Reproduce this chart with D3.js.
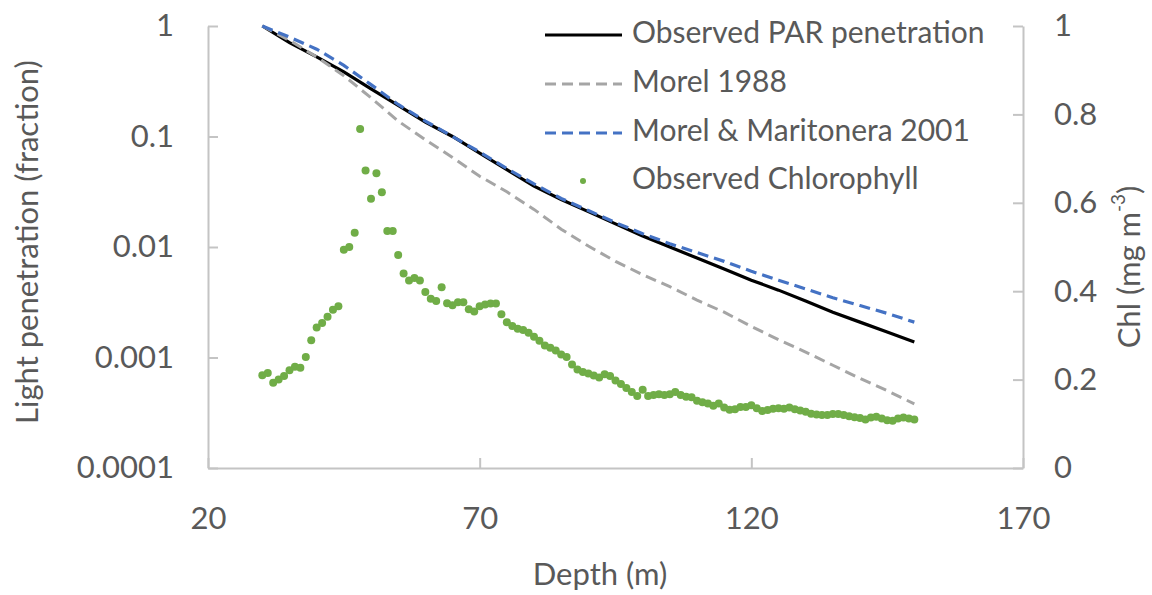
<!DOCTYPE html>
<html>
<head>
<meta charset="utf-8">
<script src="https://cdn.jsdelivr.net/npm/d3@7"></script>
<style>
  body { margin: 0; background: #ffffff; }
  svg text { font-family: Lato, "Open Sans", sans-serif; fill: #595959; }
</style>
</head>
<body>
<div id="chart"></div>
<script>
/* ********* ********* ********* ********* ********* ********* *********
 * Data
 * ********* ********* ********* ********* ********* ********* ********* */
var depth = [30, 35, 40, 45, 50, 55, 60, 65, 70, 75, 80, 85, 90, 95,
             100, 105, 110, 115, 120, 125, 130, 135, 140, 145, 150];

var observedPAR = [1, 0.708, 0.525, 0.385, 0.270, 0.191, 0.135, 0.100, 0.0708, 0.0501,
                   0.0355, 0.0269, 0.0209, 0.0162, 0.0126, 0.0100, 0.00794, 0.00631,
                   0.00501, 0.00407, 0.00324, 0.00257, 0.00209, 0.00170, 0.00138];

var morel1988 = [1, 0.741, 0.525, 0.355, 0.224, 0.138, 0.0933, 0.0646, 0.0437, 0.0316,
                 0.0219, 0.0145, 0.0102, 0.00741, 0.00562, 0.00437, 0.00331, 0.00257,
                 0.00191, 0.00145, 0.00112, 0.000851, 0.000646, 0.000501, 0.000380];

var morelMaritonera2001 = [1, 0.794, 0.617, 0.440, 0.295, 0.195, 0.138, 0.100, 0.0724, 0.0513,
                           0.0372, 0.0275, 0.0214, 0.0166, 0.0132, 0.0107, 0.00891, 0.00741,
                           0.00603, 0.00501, 0.00417, 0.00347, 0.00295, 0.00251, 0.00209];

// chlorophyll sampled every metre from 30 m
var chlStartDepth = 30;
var chlorophyll = [
  0.210, 0.215, 0.193, 0.200, 0.208, 0.221, 0.229, 0.227, 0.251, 0.289,
  0.318, 0.328, 0.342, 0.358, 0.366, 0.494, 0.500, 0.532, 0.767, 0.673,
  0.609, 0.667, 0.624, 0.536, 0.536, 0.482, 0.440, 0.424, 0.430, 0.424,
  0.398, 0.383, 0.378, 0.409, 0.373, 0.368, 0.375, 0.375, 0.359, 0.354,
  0.366, 0.370, 0.372, 0.372, 0.348, 0.330, 0.321, 0.315, 0.312, 0.306,
  0.297, 0.288, 0.277, 0.272, 0.266, 0.257, 0.251, 0.234, 0.223, 0.217,
  0.214, 0.209, 0.205, 0.212, 0.208, 0.198, 0.190, 0.181, 0.172, 0.163,
  0.177, 0.163, 0.165, 0.167, 0.165, 0.167, 0.172, 0.165, 0.161, 0.160,
  0.152, 0.149, 0.146, 0.141, 0.146, 0.137, 0.132, 0.133, 0.138, 0.138,
  0.142, 0.135, 0.129, 0.131, 0.134, 0.135, 0.134, 0.137, 0.133, 0.130,
  0.127, 0.123, 0.121, 0.120, 0.120, 0.122, 0.122, 0.120, 0.117, 0.115,
  0.113, 0.110, 0.114, 0.116, 0.112, 0.108, 0.107, 0.112, 0.114, 0.112,
  0.110
];

var xTicks = [20, 70, 120, 170];
var yLeftTicks = [1, 0.1, 0.01, 0.001, 0.0001];
var yLeftLabels = ["1", "0.1", "0.01", "0.001", "0.0001"];
var yRightTicks = [0, 0.2, 0.4, 0.6, 0.8, 1];
var yRightLabels = ["0", "0.2", "0.4", "0.6", "0.8", "1"];

var seriesNames = ["Observed PAR penetration", "Morel 1988", "Morel & Maritonera 2001", "Observed Chlorophyll"];

/* ********* ********* ********* ********* ********* ********* *********
 * Layout
 * ********* ********* ********* ********* ********* ********* ********* */
var W = 1152, H = 595;
var plot = { left: 208, right: 1023, top: 26, bottom: 468 };
var axisColor = "#c4c4c4";
var tickFont = 31, titleFont = 31, legendFont = 30;

var svg = d3.select("#chart").append("svg")
  .attr("width", W)
  .attr("height", H);

var x = d3.scaleLinear().domain([20, 170]).range([plot.left, plot.right]);
var yL = d3.scaleLog().domain([0.0001, 1]).range([plot.bottom, plot.top]);
var yR = d3.scaleLinear().domain([0, 1]).range([plot.bottom, plot.top]);

/* Axes */
function styleAxis(g) {
  g.selectAll("path, line").attr("stroke", axisColor).attr("stroke-width", 2);
  g.selectAll("text")
    .style("font-size", tickFont + "px")
    .attr("fill", "#595959");
}

svg.append("g")
  .attr("transform", "translate(0," + plot.bottom + ")")
  .call(d3.axisBottom(x).tickValues(xTicks).tickSize(-10).tickSizeOuter(0).tickPadding(39)
    .tickFormat(d3.format("d")))
  .call(styleAxis);

svg.append("g")
  .attr("transform", "translate(" + plot.left + ",0)")
  .call(d3.axisLeft(yL).tickValues(yLeftTicks).tickSize(-10).tickSizeOuter(0).tickPadding(34)
    .tickFormat(function(d, i) { return yLeftLabels[i]; }))
  .call(styleAxis);

svg.append("g")
  .attr("transform", "translate(" + plot.right + ",0)")
  .call(d3.axisRight(yR).tickValues(yRightTicks).tickSize(-10).tickSizeOuter(0).tickPadding(31)
    .tickFormat(function(d, i) { return yRightLabels[i]; }))
  .call(styleAxis);

/* Axis titles */
svg.append("text")
  .attr("x", 600)
  .attr("y", 577)
  .attr("text-anchor", "middle")
  .attr("dominant-baseline", "middle")
  .style("font-size", titleFont + "px")
  .text("Depth (m)");

svg.append("text")
  .attr("transform", "translate(30,242) rotate(-90)")
  .attr("text-anchor", "middle")
  .attr("dominant-baseline", "middle")
  .style("font-size", titleFont + "px")
  .text("Light penetration (fraction)");

var rt = svg.append("text")
  .attr("transform", "translate(1132,267) rotate(-90)")
  .attr("text-anchor", "middle")
  .attr("dominant-baseline", "middle")
  .style("font-size", titleFont + "px");
rt.append("tspan").text("Chl (mg m");
rt.append("tspan").attr("baseline-shift", "super").style("font-size", "19px").text("-3");
rt.append("tspan").text(")");

/* ********* ********* ********* ********* ********* ********* *********
 * Series
 * ********* ********* ********* ********* ********* ********* ********* */
var lineStyles = [
  { values: observedPAR, color: "#000000", width: 3.2, dash: null },
  { values: morel1988, color: "#a5a5a5", width: 3, dash: "11,6" },
  { values: morelMaritonera2001, color: "#4472c4", width: 3.2, dash: "11,6" }
];

var line = d3.line()
  .x(function(d) { return x(d[0]); })
  .y(function(d) { return yL(d[1]); });

lineStyles.forEach(function(s) {
  svg.append("path")
    .datum(depth.map(function(d, i) { return [d, s.values[i]]; }))
    .attr("d", line)
    .attr("fill", "none")
    .attr("stroke", s.color)
    .attr("stroke-width", s.width)
    .attr("stroke-dasharray", s.dash);
});

svg.append("g").selectAll("circle")
  .data(chlorophyll)
  .enter().append("circle")
    .attr("cx", function(d, i) { return x(chlStartDepth + i); })
    .attr("cy", function(d) { return yR(d); })
    .attr("r", 4)
    .attr("fill", "#70ad47");

/* ********* ********* ********* ********* ********* ********* *********
 * Legend
 * ********* ********* ********* ********* ********* ********* ********* */
var legend = svg.append("g");
var legendRows = [35, 84, 133, 181];

seriesNames.forEach(function(name, i) {
  var y0 = legendRows[i];
  if (i < 3) {
    var s = lineStyles[i];
    legend.append("line")
      .attr("x1", 545).attr("x2", 622)
      .attr("y1", y0).attr("y2", y0)
      .attr("stroke", s.color)
      .attr("stroke-width", s.width)
      .attr("stroke-dasharray", s.dash);
  } else {
    legend.append("circle")
      .attr("cx", 583).attr("cy", y0)
      .attr("r", 3)
      .attr("fill", "#70ad47");
  }
  legend.append("text")
    .attr("x", 632)
    .attr("y", y0)
    .attr("dominant-baseline", "middle")
    .style("font-size", legendFont + "px")
    .text(name);
});
</script>
</body>
</html>
